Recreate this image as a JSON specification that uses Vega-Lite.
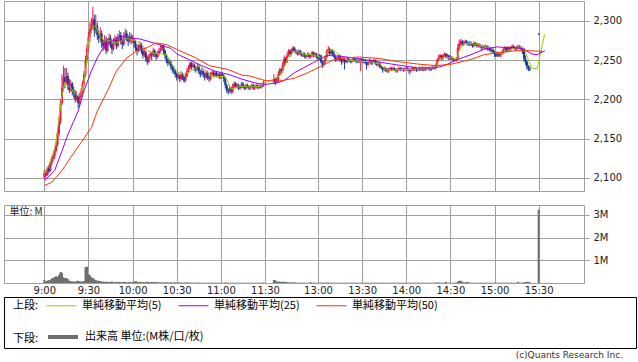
{
"$schema": "https://vega.github.io/schema/vega-lite/v6.json",
"padding": {"left": 3, "top": 0, "right": 3, "bottom": 0},
"background": "white",
"config": {
  "font": "DejaVu Sans",
  "axis": {"labelFont": "DejaVu Sans", "labelFontSize": 10, "labelColor": "#222", "gridColor": "#a0a0a0", "gridOpacity": 1, "tickColor": "#a0a0a0", "domain": false},
  "view": {"stroke": "#a0a0a0"},
  "legend": {"labelFont": "Noto Sans CJK JP", "labelFontSize": 11, "labelColor": "#000", "titleFont": "Noto Sans CJK JP", "titleFontSize": 11, "titleFontWeight": "normal", "titleColor": "#000"}
},
"datasets": {
"k": [
{"t":0,"o":2101,"h":2110,"l":2098,"c":2106,"v":0.13},{"t":1,"o":2106,"h":2109,"l":2100,"c":2103,"v":0.07},{"t":2,"o":2103,"h":2114,"l":2102,"c":2112,"v":0.1},{"t":3,"o":2112,"h":2116,"l":2105,"c":2108,"v":0.13},{"t":4,"o":2108,"h":2120,"l":2107,"c":2118,"v":0.12},{"t":5,"o":2118,"h":2127,"l":2115,"c":2124,"v":0.2},{"t":6,"o":2124,"h":2131,"l":2121,"c":2128,"v":0.22},{"t":7,"o":2128,"h":2136,"l":2124,"c":2134,"v":0.26},{"t":8,"o":2134,"h":2146,"l":2132,"c":2142,"v":0.3},{"t":9,"o":2142,"h":2160,"l":2140,"c":2156,"v":0.26},
{"t":10,"o":2156,"h":2178,"l":2152,"c":2172,"v":0.35},{"t":11,"o":2172,"h":2200,"l":2168,"c":2195,"v":0.48},{"t":12,"o":2195,"h":2232,"l":2192,"c":2215,"v":0.45},{"t":13,"o":2215,"h":2243,"l":2210,"c":2228,"v":0.25},{"t":14,"o":2228,"h":2240,"l":2214,"c":2222,"v":0.22},{"t":15,"o":2222,"h":2240,"l":2218,"c":2230,"v":0.22},{"t":16,"o":2230,"h":2234,"l":2212,"c":2218,"v":0.18},{"t":17,"o":2218,"h":2226,"l":2208,"c":2212,"v":0.1},{"t":18,"o":2212,"h":2225,"l":2210,"c":2220,"v":0.08},{"t":19,"o":2220,"h":2222,"l":2205,"c":2210,"v":0.07},
{"t":20,"o":2210,"h":2216,"l":2202,"c":2208,"v":0.06},{"t":21,"o":2208,"h":2212,"l":2196,"c":2200,"v":0.06},{"t":22,"o":2200,"h":2210,"l":2198,"c":2204,"v":0.08},{"t":23,"o":2204,"h":2206,"l":2189,"c":2195,"v":0.1},{"t":24,"o":2195,"h":2208,"l":2192,"c":2203,"v":0.07},{"t":25,"o":2203,"h":2214,"l":2200,"c":2210,"v":0.06},{"t":26,"o":2210,"h":2224,"l":2206,"c":2220,"v":0.07},{"t":27,"o":2220,"h":2236,"l":2216,"c":2232,"v":0.08},{"t":28,"o":2232,"h":2256,"l":2228,"c":2250,"v":0.7},{"t":29,"o":2250,"h":2270,"l":2246,"c":2265,"v":0.72},
{"t":30,"o":2265,"h":2286,"l":2260,"c":2280,"v":0.38},{"t":31,"o":2280,"h":2298,"l":2274,"c":2290,"v":0.34},{"t":32,"o":2290,"h":2304,"l":2284,"c":2296,"v":0.25},{"t":33,"o":2296,"h":2318,"l":2290,"c":2302,"v":0.22},{"t":34,"o":2302,"h":2308,"l":2280,"c":2288,"v":0.16},{"t":35,"o":2288,"h":2308,"l":2284,"c":2294,"v":0.12},{"t":36,"o":2294,"h":2298,"l":2276,"c":2282,"v":0.1},{"t":37,"o":2282,"h":2288,"l":2272,"c":2278,"v":0.1},{"t":38,"o":2278,"h":2292,"l":2274,"c":2284,"v":0.08},{"t":39,"o":2284,"h":2288,"l":2266,"c":2272,"v":0.06},
{"t":40,"o":2272,"h":2276,"l":2262,"c":2268,"v":0.06},{"t":41,"o":2268,"h":2282,"l":2264,"c":2276,"v":0.05},{"t":42,"o":2276,"h":2280,"l":2258,"c":2262,"v":0.06},{"t":43,"o":2262,"h":2278,"l":2260,"c":2272,"v":0.05},{"t":44,"o":2272,"h":2284,"l":2268,"c":2278,"v":0.04},{"t":45,"o":2278,"h":2282,"l":2266,"c":2270,"v":0.05},{"t":46,"o":2270,"h":2274,"l":2258,"c":2264,"v":0.06},{"t":47,"o":2264,"h":2278,"l":2262,"c":2272,"v":0.04},{"t":48,"o":2272,"h":2282,"l":2270,"c":2276,"v":0.03},{"t":49,"o":2276,"h":2280,"l":2264,"c":2268,"v":0.05},
{"t":50,"o":2268,"h":2284,"l":2266,"c":2278,"v":0.04},{"t":51,"o":2278,"h":2288,"l":2274,"c":2282,"v":0.05},{"t":52,"o":2282,"h":2286,"l":2270,"c":2274,"v":0.03},{"t":53,"o":2274,"h":2278,"l":2264,"c":2270,"v":0.04},{"t":54,"o":2270,"h":2286,"l":2268,"c":2280,"v":0.05},{"t":55,"o":2280,"h":2290,"l":2276,"c":2284,"v":0.04},{"t":56,"o":2284,"h":2288,"l":2274,"c":2278,"v":0.03},{"t":57,"o":2278,"h":2282,"l":2268,"c":2274,"v":0.04},{"t":58,"o":2274,"h":2286,"l":2272,"c":2280,"v":0.05},{"t":59,"o":2280,"h":2284,"l":2270,"c":2276,"v":0.03},
{"t":60,"o":2276,"h":2282,"l":2272,"c":2276,"v":0.04},{"t":61,"o":2276,"h":2278,"l":2266,"c":2272,"v":0.06},{"t":62,"o":2272,"h":2276,"l":2262,"c":2266,"v":0.07},{"t":63,"o":2266,"h":2270,"l":2256,"c":2262,"v":0.06},{"t":64,"o":2262,"h":2270,"l":2260,"c":2266,"v":0.04},{"t":65,"o":2266,"h":2274,"l":2262,"c":2270,"v":0.05},{"t":66,"o":2270,"h":2272,"l":2258,"c":2262,"v":0.03},{"t":67,"o":2262,"h":2266,"l":2252,"c":2256,"v":0.04},{"t":68,"o":2256,"h":2264,"l":2254,"c":2260,"v":0.03},{"t":69,"o":2260,"h":2262,"l":2248,"c":2252,"v":0.05},
{"t":70,"o":2252,"h":2256,"l":2244,"c":2248,"v":0.05},{"t":71,"o":2248,"h":2258,"l":2246,"c":2254,"v":0.04},{"t":72,"o":2254,"h":2262,"l":2252,"c":2258,"v":0.03},{"t":73,"o":2258,"h":2260,"l":2250,"c":2256,"v":0.05},{"t":74,"o":2256,"h":2266,"l":2254,"c":2262,"v":0.04},{"t":75,"o":2262,"h":2264,"l":2254,"c":2258,"v":0.03},{"t":76,"o":2258,"h":2260,"l":2250,"c":2254,"v":0.05},{"t":77,"o":2254,"h":2262,"l":2252,"c":2258,"v":0.03},{"t":78,"o":2258,"h":2266,"l":2256,"c":2262,"v":0.02},{"t":79,"o":2262,"h":2270,"l":2260,"c":2266,"v":0.03},
{"t":80,"o":2266,"h":2270,"l":2262,"c":2268,"v":0.02},{"t":81,"o":2268,"h":2270,"l":2258,"c":2262,"v":0.03},{"t":82,"o":2262,"h":2264,"l":2252,"c":2256,"v":0.02},{"t":83,"o":2256,"h":2258,"l":2246,"c":2250,"v":0.03},{"t":84,"o":2250,"h":2252,"l":2242,"c":2246,"v":0.02},{"t":85,"o":2246,"h":2252,"l":2244,"c":2248,"v":0.02},{"t":86,"o":2248,"h":2250,"l":2238,"c":2242,"v":0.03},{"t":87,"o":2242,"h":2244,"l":2234,"c":2238,"v":0.02},{"t":88,"o":2238,"h":2242,"l":2232,"c":2236,"v":0.02},{"t":89,"o":2236,"h":2238,"l":2228,"c":2232,"v":0.03},
{"t":90,"o":2232,"h":2234,"l":2224,"c":2228,"v":0.02},{"t":91,"o":2228,"h":2234,"l":2226,"c":2230,"v":0.02},{"t":92,"o":2230,"h":2232,"l":2222,"c":2226,"v":0.02},{"t":93,"o":2226,"h":2236,"l":2224,"c":2232,"v":0.02},{"t":94,"o":2232,"h":2234,"l":2224,"c":2228,"v":0.01},{"t":95,"o":2228,"h":2230,"l":2221,"c":2224,"v":0.02},{"t":96,"o":2224,"h":2234,"l":2222,"c":2230,"v":0.02},{"t":97,"o":2230,"h":2240,"l":2228,"c":2236,"v":0.02},{"t":98,"o":2236,"h":2244,"l":2234,"c":2240,"v":0.02},{"t":99,"o":2240,"h":2248,"l":2238,"c":2246,"v":0.02},
{"t":100,"o":2246,"h":2248,"l":2238,"c":2242,"v":0.01},{"t":101,"o":2242,"h":2247,"l":2240,"c":2244,"v":0.01},{"t":102,"o":2244,"h":2246,"l":2236,"c":2240,"v":0.01},{"t":103,"o":2240,"h":2242,"l":2234,"c":2238,"v":0.01},{"t":104,"o":2238,"h":2245,"l":2236,"c":2242,"v":0.01},{"t":105,"o":2242,"h":2244,"l":2232,"c":2236,"v":0.02},{"t":106,"o":2236,"h":2238,"l":2228,"c":2232,"v":0.01},{"t":107,"o":2232,"h":2240,"l":2230,"c":2236,"v":0.01},{"t":108,"o":2236,"h":2238,"l":2228,"c":2232,"v":0.01},{"t":109,"o":2232,"h":2234,"l":2224,"c":2228,"v":0.01},
{"t":110,"o":2228,"h":2237,"l":2226,"c":2234,"v":0.01},{"t":111,"o":2234,"h":2236,"l":2225,"c":2228,"v":0.01},{"t":112,"o":2228,"h":2230,"l":2222,"c":2226,"v":0.01},{"t":113,"o":2226,"h":2235,"l":2224,"c":2232,"v":0.01},{"t":114,"o":2232,"h":2237,"l":2230,"c":2234,"v":0.01},{"t":115,"o":2234,"h":2236,"l":2228,"c":2230,"v":0.01},{"t":116,"o":2230,"h":2236,"l":2228,"c":2234,"v":0.01},{"t":117,"o":2234,"h":2236,"l":2228,"c":2230,"v":0.01},{"t":118,"o":2230,"h":2234,"l":2228,"c":2232,"v":0.01},{"t":119,"o":2232,"h":2234,"l":2226,"c":2228,"v":0.01},
{"t":120,"o":2228,"h":2234,"l":2226,"c":2232,"v":0.01},{"t":121,"o":2232,"h":2234,"l":2228,"c":2230,"v":0.01},{"t":122,"o":2230,"h":2232,"l":2222,"c":2226,"v":0.01},{"t":123,"o":2226,"h":2228,"l":2214,"c":2218,"v":0.02},{"t":124,"o":2218,"h":2220,"l":2208,"c":2212,"v":0.02},{"t":125,"o":2212,"h":2214,"l":2206,"c":2210,"v":0.01},{"t":126,"o":2210,"h":2218,"l":2208,"c":2214,"v":0.01},{"t":127,"o":2214,"h":2216,"l":2207,"c":2210,"v":0.01},{"t":128,"o":2210,"h":2220,"l":2208,"c":2216,"v":0.01},{"t":129,"o":2216,"h":2223,"l":2214,"c":2220,"v":0.01},
{"t":130,"o":2220,"h":2222,"l":2214,"c":2216,"v":0.01},{"t":131,"o":2216,"h":2221,"l":2214,"c":2218,"v":0.01},{"t":132,"o":2218,"h":2220,"l":2212,"c":2214,"v":0.01},{"t":133,"o":2214,"h":2218,"l":2212,"c":2216,"v":0.01},{"t":134,"o":2216,"h":2222,"l":2214,"c":2220,"v":0.01},{"t":135,"o":2220,"h":2222,"l":2214,"c":2216,"v":0.01},{"t":136,"o":2216,"h":2218,"l":2212,"c":2214,"v":0.01},{"t":137,"o":2214,"h":2220,"l":2212,"c":2218,"v":0.01},{"t":138,"o":2218,"h":2220,"l":2214,"c":2216,"v":0.01},{"t":139,"o":2216,"h":2218,"l":2212,"c":2214,"v":0.01},
{"t":140,"o":2214,"h":2218,"l":2212,"c":2216,"v":0.01},{"t":141,"o":2216,"h":2220,"l":2214,"c":2218,"v":0.01},{"t":142,"o":2218,"h":2220,"l":2212,"c":2214,"v":0.01},{"t":143,"o":2214,"h":2218,"l":2212,"c":2216,"v":0.01},{"t":144,"o":2216,"h":2220,"l":2214,"c":2218,"v":0.01},{"t":145,"o":2218,"h":2219,"l":2213,"c":2215,"v":0.01},{"t":146,"o":2215,"h":2219,"l":2213,"c":2217,"v":0.01},{"t":147,"o":2217,"h":2219,"l":2214,"c":2216,"v":0.01},{"t":148,"o":2216,"h":2220,"l":2214,"c":2218,"v":0.01},{"t":149,"o":2218,"h":2224,"l":2216,"c":2222,"v":0.02},
{"t":156,"o":2222,"h":2232,"l":2220,"c":2226,"v":0.13},{"t":157,"o":2226,"h":2228,"l":2218,"c":2222,"v":0.12},{"t":158,"o":2222,"h":2228,"l":2220,"c":2224,"v":0.06},{"t":159,"o":2224,"h":2236,"l":2222,"c":2232,"v":0.06},{"t":160,"o":2232,"h":2240,"l":2230,"c":2238,"v":0.06},{"t":161,"o":2238,"h":2240,"l":2232,"c":2236,"v":0.05},{"t":162,"o":2236,"h":2248,"l":2234,"c":2244,"v":0.05},{"t":163,"o":2244,"h":2256,"l":2242,"c":2252,"v":0.06},{"t":164,"o":2252,"h":2254,"l":2244,"c":2248,"v":0.03},{"t":165,"o":2248,"h":2260,"l":2246,"c":2256,"v":0.04},
{"t":166,"o":2256,"h":2264,"l":2254,"c":2262,"v":0.03},{"t":167,"o":2262,"h":2264,"l":2254,"c":2258,"v":0.02},{"t":168,"o":2258,"h":2265,"l":2256,"c":2262,"v":0.02},{"t":169,"o":2262,"h":2268,"l":2260,"c":2266,"v":0.03},{"t":170,"o":2266,"h":2267,"l":2260,"c":2262,"v":0.02},{"t":171,"o":2262,"h":2264,"l":2258,"c":2260,"v":0.02},{"t":172,"o":2260,"h":2262,"l":2256,"c":2258,"v":0.01},{"t":173,"o":2258,"h":2264,"l":2256,"c":2262,"v":0.01},{"t":174,"o":2262,"h":2263,"l":2256,"c":2258,"v":0.01},{"t":175,"o":2258,"h":2260,"l":2254,"c":2256,"v":0.01},
{"t":176,"o":2256,"h":2260,"l":2254,"c":2258,"v":0.01},{"t":177,"o":2258,"h":2260,"l":2252,"c":2254,"v":0.01},{"t":178,"o":2254,"h":2258,"l":2252,"c":2256,"v":0.01},{"t":179,"o":2256,"h":2260,"l":2254,"c":2258,"v":0.01},{"t":180,"o":2258,"h":2259,"l":2252,"c":2254,"v":0.01},{"t":181,"o":2254,"h":2258,"l":2252,"c":2256,"v":0.04},{"t":182,"o":2256,"h":2262,"l":2254,"c":2260,"v":0.01},{"t":183,"o":2260,"h":2261,"l":2254,"c":2256,"v":0.01},{"t":184,"o":2256,"h":2260,"l":2254,"c":2258,"v":0.01},{"t":185,"o":2258,"h":2259,"l":2252,"c":2254,"v":0.01},
{"t":186,"o":2254,"h":2256,"l":2250,"c":2252,"v":0.01},{"t":187,"o":2252,"h":2258,"l":2250,"c":2256,"v":0.01},{"t":188,"o":2256,"h":2257,"l":2246,"c":2248,"v":0.01},{"t":189,"o":2248,"h":2250,"l":2240,"c":2244,"v":0.02},{"t":190,"o":2244,"h":2250,"l":2242,"c":2248,"v":0.01},{"t":191,"o":2248,"h":2256,"l":2246,"c":2254,"v":0.01},{"t":192,"o":2254,"h":2264,"l":2252,"c":2262,"v":0.02},{"t":193,"o":2262,"h":2268,"l":2258,"c":2264,"v":0.02},{"t":194,"o":2264,"h":2266,"l":2256,"c":2258,"v":0.01},{"t":195,"o":2258,"h":2264,"l":2256,"c":2262,"v":0.01},
{"t":196,"o":2262,"h":2263,"l":2256,"c":2258,"v":0.01},{"t":197,"o":2258,"h":2260,"l":2252,"c":2254,"v":0.01},{"t":198,"o":2254,"h":2256,"l":2248,"c":2250,"v":0.01},{"t":199,"o":2250,"h":2254,"l":2248,"c":2252,"v":0.01},{"t":200,"o":2252,"h":2258,"l":2250,"c":2256,"v":0.01},{"t":201,"o":2256,"h":2257,"l":2248,"c":2250,"v":0.01},{"t":202,"o":2250,"h":2252,"l":2244,"c":2248,"v":0.01},{"t":203,"o":2248,"h":2254,"l":2246,"c":2252,"v":0.01},{"t":204,"o":2252,"h":2253,"l":2238,"c":2250,"v":0.01},{"t":205,"o":2250,"h":2251,"l":2246,"c":2248,"v":0.01},
{"t":206,"o":2248,"h":2254,"l":2246,"c":2252,"v":0.01},{"t":207,"o":2252,"h":2253,"l":2248,"c":2250,"v":0.01},{"t":208,"o":2250,"h":2251,"l":2246,"c":2248,"v":0.01},{"t":209,"o":2248,"h":2252,"l":2246,"c":2250,"v":0.01},{"t":210,"o":2250,"h":2254,"l":2248,"c":2252,"v":0.01},{"t":211,"o":2252,"h":2253,"l":2248,"c":2250,"v":0.01},{"t":212,"o":2250,"h":2251,"l":2246,"c":2248,"v":0.01},{"t":213,"o":2248,"h":2252,"l":2246,"c":2250,"v":0.01},{"t":214,"o":2250,"h":2252,"l":2246,"c":2249,"v":0.01},{"t":215,"o":2249,"h":2253,"l":2236,"c":2251,"v":0.01},
{"t":216,"o":2251,"h":2252,"l":2246,"c":2248,"v":0.01},{"t":217,"o":2248,"h":2252,"l":2246,"c":2250,"v":0.01},{"t":218,"o":2250,"h":2251,"l":2245,"c":2247,"v":0.01},{"t":219,"o":2247,"h":2248,"l":2238,"c":2244,"v":0.01},{"t":220,"o":2244,"h":2250,"l":2242,"c":2248,"v":0.01},{"t":221,"o":2248,"h":2252,"l":2246,"c":2250,"v":0.01},{"t":222,"o":2250,"h":2251,"l":2244,"c":2246,"v":0.01},{"t":223,"o":2246,"h":2250,"l":2244,"c":2248,"v":0.01},{"t":224,"o":2248,"h":2252,"l":2246,"c":2250,"v":0.01},{"t":225,"o":2250,"h":2251,"l":2244,"c":2246,"v":0.01},
{"t":226,"o":2246,"h":2248,"l":2242,"c":2244,"v":0.01},{"t":227,"o":2244,"h":2248,"l":2242,"c":2246,"v":0.01},{"t":228,"o":2246,"h":2247,"l":2240,"c":2242,"v":0.01},{"t":229,"o":2242,"h":2244,"l":2238,"c":2240,"v":0.01},{"t":230,"o":2240,"h":2242,"l":2234,"c":2238,"v":0.01},{"t":231,"o":2238,"h":2242,"l":2236,"c":2240,"v":0.01},{"t":232,"o":2240,"h":2241,"l":2235,"c":2238,"v":0.01},{"t":233,"o":2238,"h":2240,"l":2234,"c":2236,"v":0.01},{"t":234,"o":2236,"h":2240,"l":2234,"c":2238,"v":0.01},{"t":235,"o":2238,"h":2242,"l":2236,"c":2240,"v":0.01},
{"t":236,"o":2240,"h":2241,"l":2236,"c":2238,"v":0.01},{"t":237,"o":2238,"h":2242,"l":2236,"c":2240,"v":0.01},{"t":238,"o":2240,"h":2241,"l":2236,"c":2238,"v":0.01},{"t":239,"o":2238,"h":2239,"l":2234,"c":2236,"v":0.01},{"t":240,"o":2236,"h":2240,"l":2234,"c":2238,"v":0.01},{"t":241,"o":2238,"h":2242,"l":2236,"c":2240,"v":0.01},{"t":242,"o":2240,"h":2241,"l":2236,"c":2238,"v":0.01},{"t":243,"o":2238,"h":2241,"l":2236,"c":2239,"v":0.01},{"t":244,"o":2239,"h":2240,"l":2235,"c":2237,"v":0.01},{"t":245,"o":2237,"h":2241,"l":2236,"c":2239,"v":0.01},
{"t":246,"o":2239,"h":2242,"l":2237,"c":2240,"v":0.01},{"t":247,"o":2240,"h":2241,"l":2236,"c":2238,"v":0.01},{"t":248,"o":2238,"h":2239,"l":2232,"c":2236,"v":0.01},{"t":249,"o":2236,"h":2240,"l":2234,"c":2238,"v":0.01},{"t":250,"o":2238,"h":2242,"l":2236,"c":2240,"v":0.01},{"t":251,"o":2240,"h":2241,"l":2236,"c":2238,"v":0.01},{"t":252,"o":2238,"h":2242,"l":2236,"c":2240,"v":0.01},{"t":253,"o":2240,"h":2241,"l":2235,"c":2237,"v":0.01},{"t":254,"o":2237,"h":2240,"l":2236,"c":2238,"v":0.01},{"t":255,"o":2238,"h":2242,"l":2236,"c":2240,"v":0.01},
{"t":256,"o":2240,"h":2241,"l":2236,"c":2238,"v":0.01},{"t":257,"o":2238,"h":2242,"l":2236,"c":2240,"v":0.01},{"t":258,"o":2240,"h":2241,"l":2236,"c":2238,"v":0.01},{"t":259,"o":2238,"h":2242,"l":2236,"c":2240,"v":0.01},{"t":260,"o":2240,"h":2241,"l":2237,"c":2239,"v":0.01},{"t":261,"o":2239,"h":2242,"l":2238,"c":2240,"v":0.01},{"t":262,"o":2240,"h":2241,"l":2236,"c":2238,"v":0.01},{"t":263,"o":2238,"h":2242,"l":2236,"c":2240,"v":0.01},{"t":264,"o":2240,"h":2243,"l":2238,"c":2241,"v":0.01},{"t":265,"o":2241,"h":2242,"l":2238,"c":2240,"v":0.01},
{"t":266,"o":2240,"h":2246,"l":2238,"c":2244,"v":0.02},{"t":267,"o":2244,"h":2252,"l":2242,"c":2250,"v":0.02},{"t":268,"o":2250,"h":2257,"l":2248,"c":2254,"v":0.02},{"t":269,"o":2254,"h":2258,"l":2252,"c":2256,"v":0.01},{"t":270,"o":2256,"h":2257,"l":2250,"c":2252,"v":0.01},{"t":271,"o":2252,"h":2258,"l":2250,"c":2256,"v":0.01},{"t":272,"o":2256,"h":2260,"l":2254,"c":2258,"v":0.01},{"t":273,"o":2258,"h":2259,"l":2252,"c":2254,"v":0.05},{"t":274,"o":2254,"h":2258,"l":2252,"c":2256,"v":0.01},{"t":275,"o":2256,"h":2257,"l":2250,"c":2252,"v":0.01},
{"t":276,"o":2252,"h":2256,"l":2250,"c":2254,"v":0.01},{"t":277,"o":2254,"h":2255,"l":2250,"c":2252,"v":0.01},{"t":278,"o":2252,"h":2253,"l":2248,"c":2250,"v":0.01},{"t":279,"o":2250,"h":2252,"l":2248,"c":2250,"v":0.01},{"t":280,"o":2250,"h":2254,"l":2248,"c":2252,"v":0.02},{"t":281,"o":2252,"h":2270,"l":2250,"c":2266,"v":0.06},{"t":282,"o":2266,"h":2276,"l":2262,"c":2272,"v":0.1},{"t":283,"o":2272,"h":2277,"l":2268,"c":2274,"v":0.1},{"t":284,"o":2274,"h":2276,"l":2268,"c":2270,"v":0.06},{"t":285,"o":2270,"h":2275,"l":2268,"c":2272,"v":0.02},
{"t":286,"o":2272,"h":2276,"l":2270,"c":2274,"v":0.02},{"t":287,"o":2274,"h":2276,"l":2270,"c":2272,"v":0.05},{"t":288,"o":2272,"h":2274,"l":2268,"c":2270,"v":0.04},{"t":289,"o":2270,"h":2274,"l":2268,"c":2272,"v":0.02},{"t":290,"o":2272,"h":2274,"l":2268,"c":2270,"v":0.01},{"t":291,"o":2270,"h":2272,"l":2266,"c":2268,"v":0.01},{"t":292,"o":2268,"h":2274,"l":2266,"c":2272,"v":0.01},{"t":293,"o":2272,"h":2273,"l":2268,"c":2270,"v":0.01},{"t":294,"o":2270,"h":2272,"l":2266,"c":2268,"v":0.01},{"t":295,"o":2268,"h":2272,"l":2266,"c":2270,"v":0.01},
{"t":296,"o":2270,"h":2271,"l":2266,"c":2268,"v":0.01},{"t":297,"o":2268,"h":2269,"l":2262,"c":2266,"v":0.01},{"t":298,"o":2266,"h":2270,"l":2264,"c":2268,"v":0.01},{"t":299,"o":2268,"h":2269,"l":2264,"c":2266,"v":0.01},{"t":300,"o":2266,"h":2270,"l":2264,"c":2268,"v":0.01},{"t":301,"o":2268,"h":2269,"l":2262,"c":2264,"v":0.01},{"t":302,"o":2264,"h":2268,"l":2262,"c":2266,"v":0.01},{"t":303,"o":2266,"h":2267,"l":2260,"c":2262,"v":0.01},{"t":304,"o":2262,"h":2266,"l":2260,"c":2264,"v":0.01},{"t":305,"o":2264,"h":2265,"l":2258,"c":2260,"v":0.01},
{"t":306,"o":2260,"h":2262,"l":2254,"c":2258,"v":0.01},{"t":307,"o":2258,"h":2260,"l":2254,"c":2256,"v":0.01},{"t":308,"o":2256,"h":2260,"l":2254,"c":2258,"v":0.01},{"t":309,"o":2258,"h":2259,"l":2254,"c":2256,"v":0.01},{"t":310,"o":2256,"h":2260,"l":2254,"c":2258,"v":0.01},{"t":311,"o":2258,"h":2262,"l":2256,"c":2260,"v":0.01},{"t":312,"o":2260,"h":2266,"l":2258,"c":2264,"v":0.01},{"t":313,"o":2264,"h":2268,"l":2262,"c":2266,"v":0.01},{"t":314,"o":2266,"h":2267,"l":2260,"c":2262,"v":0.01},{"t":315,"o":2262,"h":2268,"l":2260,"c":2266,"v":0.01},
{"t":316,"o":2266,"h":2267,"l":2262,"c":2264,"v":0.01},{"t":317,"o":2264,"h":2268,"l":2262,"c":2266,"v":0.01},{"t":318,"o":2266,"h":2270,"l":2264,"c":2268,"v":0.01},{"t":319,"o":2268,"h":2269,"l":2264,"c":2266,"v":0.01},{"t":320,"o":2266,"h":2267,"l":2262,"c":2264,"v":0.01},{"t":321,"o":2264,"h":2268,"l":2262,"c":2266,"v":0.01},{"t":322,"o":2266,"h":2270,"l":2264,"c":2268,"v":0.05},{"t":323,"o":2268,"h":2269,"l":2264,"c":2266,"v":0.01},{"t":324,"o":2266,"h":2268,"l":2262,"c":2264,"v":0.01},{"t":325,"o":2264,"h":2266,"l":2258,"c":2262,"v":0.02},
{"t":326,"o":2262,"h":2266,"l":2248,"c":2252,"v":0.02},{"t":327,"o":2252,"h":2256,"l":2244,"c":2248,"v":0.05},{"t":328,"o":2248,"h":2250,"l":2238,"c":2242,"v":0.05},{"t":329,"o":2242,"h":2244,"l":2236,"c":2239,"v":0.05},{"t":330,"o":2239,"h":2242,"l":2236,"c":2238,"v":0.03},{"t":336,"o":2284,"h":2284,"l":2282,"c":2283,"v":3.23}
],
"ma": [
{"t":0,"m5":2104,"m25":2096,"m50":2090},{"t":3,"m5":2116},{"t":5,"m50":2094},{"t":6,"m5":2131},{"t":7,"m25":2109},{"t":8,"m5":2146},{"t":10,"m5":2178},{"t":12,"m5":2205,"m25":2134,"m50":2109},{"t":14,"m5":2221},{"t":16,"m25":2155},{"t":17,"m5":2217},{"t":18,"m50":2126},{"t":20,"m5":2209},{"t":23,"m5":2204,"m25":2185},{"t":25,"m5":2206,"m50":2145},{"t":27,"m5":2222,"m25":2211},{"t":29,"m5":2252},{"t":30,"m5":2272},{"t":31,"m5":2283},{"t":32,"m25":2236,"m50":2164},{"t":33,"m5":2291},{"t":35,"m5":2294},{"t":36,"m25":2253,"m50":2185},{"t":38,"m5":2280},{"t":40,"m25":2266},{"t":42,"m5":2274},{"t":43,"m50":2211},{"t":45,"m5":2275,"m25":2274},{"t":48,"m5":2272},{"t":49,"m50":2236},{"t":52,"m5":2274,"m25":2281},{"t":55,"m5":2279},{"t":56,"m25":2279,"m50":2253},{"t":58,"m5":2277},{"t":63,"m5":2274,"m50":2262},{"t":65,"m25":2277},{"t":66,"m5":2270},{"t":70,"m5":2262,"m50":2266},{"t":73,"m5":2260},{"t":76,"m5":2258,"m25":2271,"m50":2272},{"t":80,"m5":2258},{"t":83,"m5":2257,"m50":2270},{"t":86,"m5":2247,"m25":2265},{"t":90,"m5":2236,"m25":2258},{"t":92,"m50":2262},{"t":94,"m5":2232},{"t":98,"m5":2234,"m25":2251},{"t":103,"m5":2240,"m50":2253},{"t":106,"m5":2243},{"t":107,"m25":2243},{"t":110,"m5":2236},{"t":112,"m50":2243},{"t":114,"m5":2230},{"t":116,"m25":2236},{"t":118,"m5":2229},{"t":123,"m5":2229},{"t":125,"m5":2221,"m25":2232,"m50":2238},{"t":127,"m5":2213},{"t":130,"m5":2215},{"t":134,"m5":2217,"m25":2226,"m50":2231},{"t":138,"m5":2216},{"t":139,"m50":2230},{"t":143,"m5":2216,"m25":2221},{"t":147,"m5":2217},{"t":150,"m5":2221,"m25":2219,"m50":2224},{"t":156,"m5":2226},{"t":158,"m25":2221},{"t":159,"m5":2229,"m50":2223},{"t":161,"m5":2232},{"t":163,"m25":2224},{"t":164,"m5":2245},{"t":166,"m5":2255},{"t":170,"m5":2261,"m25":2234,"m50":2227},{"t":173,"m5":2260},{"t":176,"m25":2240},{"t":177,"m5":2257},{"t":179,"m50":2234},{"t":182,"m5":2257},{"t":183,"m25":2247},{"t":186,"m5":2255},{"t":188,"m25":2252,"m50":2242},{"t":190,"m5":2251},{"t":192,"m25":2256},{"t":193,"m5":2262},{"t":196,"m5":2264,"m50":2250},{"t":201,"m5":2255,"m25":2255},{"t":205,"m5":2251,"m50":2253},{"t":210,"m5":2249,"m25":2253},{"t":214,"m5":2249,"m50":2254},{"t":220,"m25":2250},{"t":221,"m5":2248},{"t":228,"m5":2245,"m50":2252},{"t":232,"m5":2238},{"t":236,"m25":2245},{"t":237,"m5":2237},{"t":241,"m50":2248},{"t":243,"m5":2238},{"t":248,"m5":2238},{"t":254,"m5":2239,"m25":2240,"m50":2245},{"t":261,"m5":2239},{"t":265,"m5":2240,"m25":2240},{"t":266,"m50":2243},{"t":269,"m5":2251},{"t":272,"m5":2254,"m25":2243},{"t":277,"m5":2253,"m50":2245},{"t":280,"m5":2251},{"t":281,"m25":2251},{"t":282,"m5":2262},{"t":285,"m5":2271},{"t":290,"m5":2271,"m25":2257,"m50":2251},{"t":294,"m5":2270},{"t":299,"m5":2267,"m25":2264,"m50":2257},{"t":303,"m5":2266},{"t":307,"m5":2262},{"t":308,"m25":2267},{"t":310,"m5":2258,"m50":2260},{"t":314,"m5":2261,"m25":2266},{"t":319,"m5":2265},{"t":321,"m25":2266,"m50":2262},{"t":323,"m5":2267},{"t":326,"m5":2264,"m25":2264},{"t":329,"m5":2251},{"t":330,"m50":2262},{"t":331,"m5":2240,"m25":2258},{"t":335,"m5":2239,"m25":2257},{"t":340,"m5":2283,"m25":2262,"m50":2261}
]
},
"vconcat": [
  {
    "vconcat": [
      {
        "width": 580,
        "height": 190,
        "encoding": {
          "x": {"field": "t", "type": "quantitative", "title": null,
                "scale": {"domain": [-24, 363.4], "nice": false, "zero": false},
                "axis": {"values": [0,30,60,90,120,150,186,216,246,276,306,336], "labels": false, "ticks": false, "domain": false, "grid": true, "title": null}}
        },
        "layer": [
          {
            "data": {"name": "k"},
            "mark": {"type": "rule", "strokeWidth": 1},
            "encoding": {
              "y": {"field": "l", "type": "quantitative", "title": null,
                    "scale": {"domain": [2083, 2325.5], "nice": false, "zero": false},
                    "axis": {"orient": "right", "values": [2100,2150,2200,2250,2300], "labelExpr": "format(datum.value, ',')", "tickSize": 5, "labelPadding": 4, "grid": true, "title": null}},
              "y2": {"field": "h"},
              "color": {"condition": {"test": "datum.c >= datum.o", "value": "#f2184a"}, "value": "#123c9a"}
            }
          },
          {
            "data": {"name": "k"},
            "mark": {"type": "bar", "size": 2},
            "encoding": {
              "y": {"field": "o", "type": "quantitative", "title": null},
              "y2": {"field": "c"},
              "color": {"condition": {"test": "datum.c >= datum.o", "value": "#f2184a"}, "value": "#123c9a"}
            }
          },
          {
            "data": {"name": "ma"},
            "transform": [{"fold": ["m5", "m25", "m50"], "as": ["key", "p"]}, {"filter": "isValid(datum.p)"}],
            "mark": {"type": "line", "strokeWidth": 1},
            "encoding": {
              "y": {"field": "p", "type": "quantitative", "title": null},
              "stroke": {"field": "key", "type": "nominal",
                "scale": {"domain": ["m5", "m25", "m50"], "range": ["#99cc00", "#9900ff", "#ff3300"]},
                "legend": {"title": "上段:", "orient": "none", "legendX": 9, "legendY": 289, "direction": "horizontal", "titleOrient": "left", "titleAngle": 0, "titleBaseline": "top", "titleAnchor": "middle", "titlePadding": 7, "symbolType": "stroke", "symbolSize": 900, "symbolStrokeWidth": 1, "labelOffset": 5, "columnPadding": 14,
                  "labelExpr": "datum.label == 'm5' ? '単純移動平均(5)' : (datum.label == 'm25' ? '単純移動平均(25)' : '単純移動平均(50)')"}}
            }
          }
        ]
      },
      {
        "width": 580,
        "height": 78,
        "data": {"name": "k"},
        "mark": {"type": "bar", "size": 2},
        "encoding": {
          "x": {"field": "t", "type": "quantitative", "title": null,
                "scale": {"domain": [-24, 363.4], "nice": false, "zero": false},
                "axis": {"values": [0,30,60,90,120,150,186,216,246,276,306,336], "ticks": false, "domain": false, "grid": true, "labelPadding": 2, "labelFlush": false, "title": null,
                  "labelExpr": "datum.value <= 150 ? (floor((540 + datum.value) / 60) + ':' + ((540 + datum.value) % 60 == 0 ? '00' : '30')) : (floor((594 + datum.value) / 60) + ':' + ((594 + datum.value) % 60 == 0 ? '00' : '30'))"}},
          "y": {"field": "v", "type": "quantitative",
                "scale": {"domain": [0, 3.43], "nice": false, "zero": true},
                "axis": {"orient": "right", "values": [1, 2, 3], "labelExpr": "datum.value + 'M'", "tickSize": 5, "labelPadding": 4, "grid": true,
                  "title": "単位: M", "titleAngle": 0, "titleX": -575, "titleY": 1, "titleAlign": "left", "titleBaseline": "top", "titleFont": "Noto Sans CJK JP", "titleFontSize": 10, "titleFontWeight": "normal", "titleColor": "#222"}},
          "fill": {"datum": "出来高 単位:(M株/口/枚)", "type": "nominal",
            "scale": {"range": ["#6e6e6e"]},
            "legend": {"title": "下段:", "orient": "none", "legendX": 9, "legendY": 319, "titleOrient": "left", "titleAngle": 0, "titleBaseline": "top", "titleAnchor": "middle", "titlePadding": 7, "symbolType": "stroke", "symbolSize": 900, "symbolStrokeWidth": 4, "symbolStrokeColor": "#6e6e6e", "labelOffset": 5}}
        }
      }
    ],
    "spacing": 12,
    "resolve": {"scale": {"stroke": "shared", "fill": "shared"}, "legend": {"stroke": "shared", "fill": "shared"}}
  },
  {
    "width": 632,
    "height": 51,
    "data": {"values": []},
    "mark": {"type": "point"},
    "encoding": {},
    "view": {"stroke": "#000", "strokeWidth": 1},
    "title": {"text": "(c)Quants Research Inc.", "orient": "bottom", "anchor": "end", "font": "DejaVu Sans", "fontSize": 9, "fontWeight": "normal", "color": "#333", "offset": 3, "dx": -13}
  }
],
"spacing": 0,
"resolve": {"scale": {"stroke": "shared", "fill": "shared"}, "legend": {"stroke": "shared", "fill": "shared"}}
}
